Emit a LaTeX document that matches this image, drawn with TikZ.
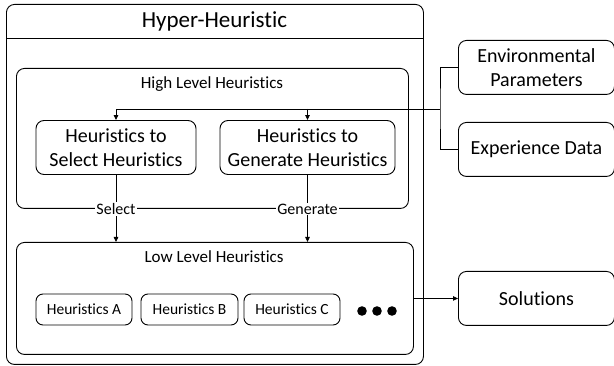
\documentclass[tikz,border=0pt]{standalone}
\usepackage{fontspec}
\setmainfont[Ligatures=NoCommon]{Carlito}
\usetikzlibrary{arrows.meta,positioning,calc}
\begin{document}
\begin{tikzpicture}[x=1pt,y=-1pt,
  box/.style={draw, rounded corners=8pt, line width=0.9pt},
  tbox/.style={box, align=center, font=\fontsize{20}{24.5}\selectfont},
  sbox/.style={box, rounded corners=7pt, font=\fontsize{15.5}{18}\selectfont, minimum height=31pt, inner sep=0pt},
  link/.style={line width=0.8pt},
  arr/.style={link, -{Triangle[length=5pt,width=4.5pt]}},
  tag/.style={fill=white, inner sep=1pt, font=\fontsize{16}{18}\selectfont},
  heading/.style={font=\fontsize{17}{20}\selectfont}
]
\useasboundingbox (0,0) rectangle (614,366);

% containers
\node[box, minimum width=417pt, minimum height=360pt, anchor=north west] (hyper) at (6,4) {};
\draw[link] (6,38) -- (423,38);
\node[font=\fontsize{23}{26}\selectfont] (hypert) at (214.5,21) {Hyper-Heuristic};

\node[box, minimum width=392pt, minimum height=140pt, anchor=north west] (high) at (16,68) {};
\node[heading] (hight) at (212,84) {High Level Heuristics};

\node[box, minimum width=397pt, minimum height=112pt, anchor=north west] (low) at (16,242) {};
\node[heading] (lowt) at (214,257) {Low Level Heuristics};

% high level heuristics
\node[tbox, minimum width=160pt, minimum height=54pt] (sel) at (116,147.5) {Heuristics to\\Select Heuristics};
\node[tbox, minimum width=175pt, minimum height=54pt] (gen) at (307.5,147.5) {Heuristics to\\Generate Heuristics};

% low level heuristics
\node[sbox, minimum width=96pt] (ha) at (84,309.5) {Heuristics A};
\node[sbox, minimum width=97pt] (hb) at (189.5,309.5) {Heuristics B};
\node[sbox, minimum width=96pt] (hc) at (292,309.5) {Heuristics C};
\foreach \i/\xx in {1/362,2/377,3/392}
  \fill (\xx,311) circle (4.8pt);

% external data and outputs
\node[tbox, minimum width=156pt, minimum height=54pt, anchor=north west] (env) at (458,40) {Environmental\\Parameters};
\node[tbox, minimum width=156pt, minimum height=54pt, anchor=north west] (exp) at (458,122) {Experience Data};
\node[tbox, minimum width=156pt, minimum height=54pt, anchor=north west] (sol) at (458,271) {Solutions};

% inputs feeding the high level heuristics
\coordinate (bus) at (440,109);
\draw[link] (env.west) -| (bus) |- (exp.west);
\draw[arr] (bus) -| (sel.north);
\draw[arr] (gen.north |- bus) -- (gen.north);

% selection / generation
\draw[arr] (sel.south) -- (sel.south |- low.north);
\draw[arr] (gen.south) -- (gen.south |- low.north);
\node[tag] (selt) at (sel.south |- high.south) {Select};
\node[tag] (gent) at (gen.south |- high.south) {Generate};

% results
\draw[arr] (low.east |- sol.west) -- (sol.west);
\end{tikzpicture}
\end{document}
